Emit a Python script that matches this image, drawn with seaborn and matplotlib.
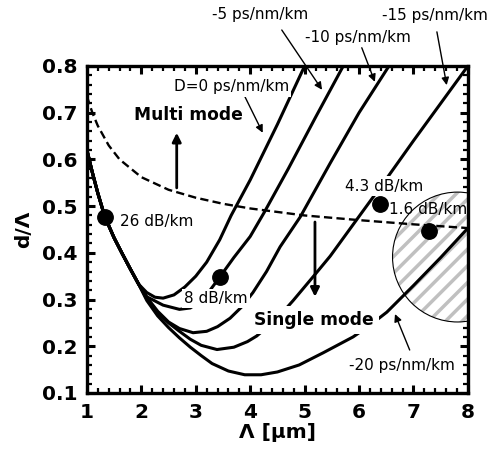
import numpy as np
import pandas as pd
import matplotlib
matplotlib.use("Agg")
import matplotlib.pyplot as plt
from matplotlib.patches import Ellipse
from matplotlib.ticker import MultipleLocator, FormatStrFormatter
import seaborn as sns

# shared descending branch (all dispersion curves start together)
branch_x = [1.0, 1.1, 1.2, 1.33, 1.5, 1.65, 1.8, 1.95]
branch_y = [0.62, 0.572, 0.528, 0.477, 0.432, 0.398, 0.365, 0.333]

# D = 0 ps/nm/km
d0_x = [2.1, 2.25, 2.4, 2.6, 2.8, 3.0, 3.2, 3.44, 3.65, 4.0, 4.5, 5.0]
d0_y = [0.315, 0.305, 0.303, 0.31, 0.327, 0.35, 0.38, 0.428, 0.48, 0.556, 0.675, 0.80]
# D = -5
d5_x = [2.1, 2.4, 2.7, 2.9, 3.1, 3.25, 3.44, 3.7, 4.0, 4.25, 4.7, 5.2, 5.71]
d5_y = [0.306, 0.288, 0.279, 0.282, 0.298, 0.318, 0.348, 0.39, 0.435, 0.485, 0.58, 0.69, 0.80]
# D = -10
d10_x = [2.1, 2.3, 2.5, 2.7, 2.95, 3.2, 3.4, 3.63, 3.85, 4.05, 4.3, 4.55, 4.92, 5.47, 6.0, 6.55]
d10_y = [0.305, 0.275, 0.252, 0.238, 0.229, 0.232, 0.242, 0.26, 0.285, 0.315, 0.36, 0.413, 0.477, 0.592, 0.70, 0.80]
# D = -15
d15_x = [2.1, 2.3, 2.5, 2.7, 2.9, 3.1, 3.39, 3.7, 3.95, 4.12, 4.5, 4.79, 5.2, 5.47, 6.0, 6.5, 7.0, 7.5, 8.0]
d15_y = [0.302, 0.272, 0.25, 0.232, 0.215, 0.202, 0.193, 0.198, 0.21, 0.222, 0.26, 0.298, 0.355, 0.393, 0.478, 0.558, 0.64, 0.72, 0.80]
# D = -20
d20_x = [2.1, 2.3, 2.5, 2.7, 2.9, 3.1, 3.3, 3.6, 3.9, 4.2, 4.5, 4.9, 5.34, 5.89, 6.2, 6.51, 7.0, 7.5, 8.0]
d20_y = [0.298, 0.265, 0.24, 0.218, 0.198, 0.18, 0.163, 0.147, 0.139, 0.139, 0.145, 0.16, 0.186, 0.22, 0.245, 0.273, 0.33, 0.39, 0.453]

# single/multi mode boundary
cut_x = [1.0, 1.1, 1.2, 1.4, 1.6, 2.0, 2.5, 3.0, 3.5, 4.0, 5.0, 6.0, 7.0, 8.0]
cut_y = [0.735, 0.70, 0.672, 0.63, 0.60, 0.562, 0.535, 0.518, 0.505, 0.495, 0.48, 0.47, 0.461, 0.453]

# loss points
loss_x = [1.33, 3.44, 6.39, 7.29]
loss_y = [0.477, 0.348, 0.505, 0.447]
loss_labels = ["26 dB/km", "8 dB/km", "4.3 dB/km", "1.6 dB/km"]

sns.set_style("ticks")
plt.rcParams["font.family"] = ["DejaVu Sans"]
plt.rcParams["hatch.linewidth"] = 2.5
for k in ["text.color", "axes.labelcolor", "xtick.color", "ytick.color", "axes.edgecolor"]:
    plt.rcParams[k] = "black"

fig = plt.figure(figsize=(4.91, 4.5), dpi=100)
ax = fig.add_axes([0.177, 0.1267, 0.776, 0.7267])

curves = [(d0_x, d0_y), (d5_x, d5_y), (d10_x, d10_y), (d15_x, d15_y), (d20_x, d20_y)]
for cx, cy in curves:
    df = pd.DataFrame({"x": branch_x + cx, "y": branch_y + cy})
    sns.lineplot(data=df, x="x", y="y", sort=False, estimator=None,
                 color="black", lw=2.2, ax=ax, zorder=3)

sns.lineplot(x=cut_x, y=cut_y, sort=False, estimator=None, color="black",
             lw=1.7, linestyle=(0, (3.5, 1.8)), ax=ax, zorder=3)

# hatched circle (round on screen, so ellipse in data units)
ax.add_patch(Ellipse((7.81, 0.391), 2.39, 0.278, facecolor="white",
                     edgecolor="#c0c0c0", lw=0, hatch="//", zorder=1))
ax.add_patch(Ellipse((7.81, 0.391), 2.39, 0.278, fill=False,
                     edgecolor="black", lw=0.8, zorder=2))

sns.scatterplot(x=loss_x, y=loss_y, color="black", s=125, edgecolor="black",
                ax=ax, zorder=6, legend=False)

txt = dict(fontsize=11, ha="center", va="center")
wbox = dict(facecolor="white", edgecolor="none", pad=1.5)
ax.text(2.29, 0.468, loss_labels[0], bbox=wbox, zorder=5, **txt)
ax.text(3.37, 0.303, loss_labels[1], bbox=wbox, zorder=5, **txt)
ax.text(6.46, 0.543, loss_labels[2], bbox=wbox, zorder=5, **txt)
ax.text(7.26, 0.492, loss_labels[3], zorder=5, **txt)

ax.text(2.86, 0.695, "Multi mode", fontsize=12.3, fontweight="bold",
        ha="center", va="center", bbox=wbox, zorder=5)
ax.text(5.17, 0.256, "Single mode", fontsize=12.3, fontweight="bold",
        ha="center", va="center", bbox=dict(facecolor="white", edgecolor="none", pad=3.5), zorder=5)

ax.text(3.65, 0.755, "D=0 ps/nm/km", bbox=wbox, zorder=5, **txt)
ax.text(6.79, 0.158, "-20 ps/nm/km", bbox=wbox, zorder=5, **txt)
ax.text(4.18, 0.911, "-5 ps/nm/km", clip_on=False, **txt)
ax.text(5.98, 0.862, "-10 ps/nm/km", clip_on=False, **txt)
ax.text(7.39, 0.907, "-15 ps/nm/km", clip_on=False, **txt)

thin = dict(arrowstyle="-|>", color="black", lw=1.0, mutation_scale=11, shrinkA=0, shrinkB=0)
arrows = [((4.58, 0.877), (5.32, 0.749)),
          ((6.05, 0.839), (6.29, 0.766)),
          ((7.43, 0.873), (7.61, 0.759)),
          ((3.87, 0.742), (4.23, 0.657)),
          ((6.93, 0.192), (6.66, 0.269))]
for tail, tip in arrows:
    ax.annotate("", xy=tip, xytext=tail, arrowprops=thin, annotation_clip=False, zorder=4)

thick = dict(arrowstyle="-|>", color="black", lw=2.0, mutation_scale=13, shrinkA=0, shrinkB=0)
ax.annotate("", xy=(2.65, 0.657), xytext=(2.65, 0.539), arrowprops=thick, zorder=4)
ax.annotate("", xy=(5.19, 0.306), xytext=(5.19, 0.466), arrowprops=thick, zorder=4)

ax.set_xlim(1, 8)
ax.set_ylim(0.1, 0.8)
ax.xaxis.set_major_locator(MultipleLocator(1))
ax.xaxis.set_minor_locator(MultipleLocator(0.2))
ax.yaxis.set_major_locator(MultipleLocator(0.1))
ax.yaxis.set_minor_locator(MultipleLocator(0.02))
ax.xaxis.set_major_formatter(FormatStrFormatter("%d"))
ax.yaxis.set_major_formatter(FormatStrFormatter("%.1f"))
ax.tick_params(which="both", direction="in", top=True, right=True, color="black")
ax.tick_params(which="major", length=6, width=2.2, labelsize=14.5, pad=7)
ax.tick_params(which="minor", length=3.5, width=1.6)
for lab in ax.get_xticklabels() + ax.get_yticklabels():
    lab.set_fontweight("bold")
for sp in ax.spines.values():
    sp.set_linewidth(2.4)
    sp.set_visible(True)
    sp.set_color("black")

ax.set_xlabel("Λ [μm]", fontsize=14.5, fontweight="bold", labelpad=1)
ax.set_ylabel("d/Λ", fontsize=14.5, fontweight="bold", labelpad=6)

fig.savefig("out.png", dpi=100)
